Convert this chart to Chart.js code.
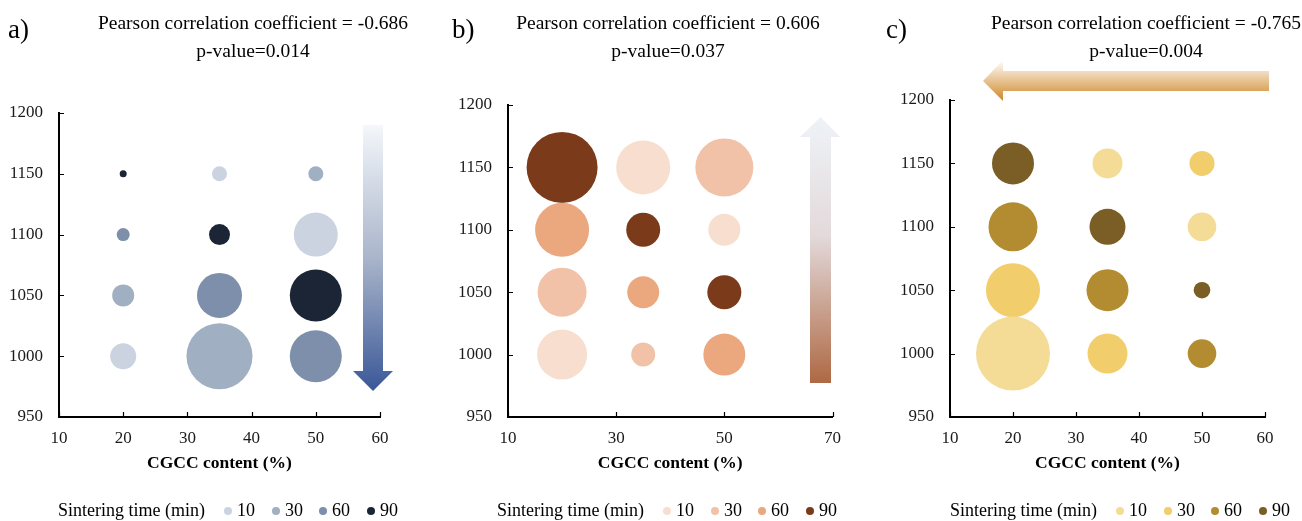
<!DOCTYPE html>
<html>
<head>
<meta charset="utf-8">
<script src="https://cdn.jsdelivr.net/npm/chart.js@4"></script>
<style>
  body { margin: 0; background: #fff; }
  .panel { position: absolute; top: 0; width: 434px; height: 521px; }
</style>
</head>
<body>
<div class="panel" style="left:0px"><canvas id="chartA" width="434" height="521"></canvas></div>
<div class="panel" style="left:434px"><canvas id="chartB" width="434" height="521"></canvas></div>
<div class="panel" style="left:868px"><canvas id="chartC" width="434" height="521"></canvas></div>
<script>
// CGCC content (x) and sintering temperature (y) of the grid
const cgcc = [20, 35, 50];
const temps = [1150, 1100, 1050, 1000];
const timeLevels = [10, 30, 60, 90];
// sintering time for each cell, rows = temps, cols = cgcc
const sinterTime = [
  [90, 10, 30],
  [60, 90, 10],
  [30, 60, 90],
  [10, 30, 60]
];
// bubble size, same layout
const sizeA = [
  [3.5, 7.5, 7.5],
  [6.5, 10.5, 22],
  [11, 22.5, 26],
  [13, 33, 26]
];
const sizeB = [
  [35.5, 27, 29],
  [27, 17, 16],
  [24.5, 16, 17],
  [25, 12, 21]
];
const sizeC = [
  [21, 15, 12.5],
  [24.5, 18, 14.3],
  [27, 21, 8.3],
  [37, 20, 14.3]
];
const xTicksA = [10, 20, 30, 40, 50, 60];
const xTicksB = [10, 30, 50, 70];
const xTicksC = [10, 20, 30, 40, 50, 60];
const yTicks = [950, 1000, 1050, 1100, 1150, 1200];
const pearson = ['-0.686', '0.606', '-0.765'];
const pValues = ['0.014', '0.037', '0.004'];

const SERIF = '"Liberation Serif", "Times New Roman", serif';

function buildSets(size, colors) {
  const sets = timeLevels.map((t, k) => ({
    label: String(t),
    data: [],
    backgroundColor: colors[k],
    hoverBackgroundColor: colors[k],
    borderWidth: 0,
    hoverBorderWidth: 0,
    clip: false
  }));
  temps.forEach((y, i) => {
    cgcc.forEach((x, j) => {
      const k = timeLevels.indexOf(sinterTime[i][j]);
      sets[k].data.push({ x: x, y: y, r: size[i][j] });
    });
  });
  return sets;
}

function drawArrow(ctx, pts, grad) {
  ctx.beginPath();
  ctx.moveTo(pts[0][0], pts[0][1]);
  for (let i = 1; i < pts.length; i++) ctx.lineTo(pts[i][0], pts[i][1]);
  ctx.closePath();
  ctx.fillStyle = grad;
  ctx.fill();
}

const decor = {
  id: 'decor',
  afterDraw(chart, args, o) {
    const ctx = chart.ctx;
    const a = chart.chartArea;
    const sx = chart.scales.x, sy = chart.scales.y;
    ctx.save();

    // tick marks pointing inside the plot
    ctx.strokeStyle = '#000';
    ctx.lineWidth = 1.2;
    ctx.beginPath();
    sx.ticks.forEach(t => {
      const px = Math.round(sx.getPixelForValue(t.value)) + 0.5;
      ctx.moveTo(px, a.bottom);
      ctx.lineTo(px, a.bottom - 5);
    });
    sy.ticks.forEach(t => {
      const py = Math.round(sy.getPixelForValue(t.value)) + 0.5;
      ctx.moveTo(a.left, py);
      ctx.lineTo(a.left + 5, py);
    });
    ctx.stroke();

    ctx.fillStyle = '#000';
    ctx.textBaseline = 'middle';

    // panel letter
    ctx.font = '27px ' + SERIF;
    ctx.textAlign = 'left';
    ctx.fillText(o.letter, o.letterX, 31);

    // correlation text
    ctx.font = '19.5px ' + SERIF;
    ctx.textAlign = 'center';
    ctx.fillText('Pearson correlation coefficient = ' + o.r, o.titleX, 24);
    ctx.fillText('p-value=' + o.p, o.titleX, 52);

    // x axis title
    ctx.font = 'bold 17.5px ' + SERIF;
    ctx.fillText('CGCC content (%)', (a.left + a.right) / 2, 463);

    // legend
    ctx.font = '18px ' + SERIF;
    ctx.textAlign = 'left';
    ctx.fillText('Sintering time (min)', o.legendX, 511);
    const offs = [170, 218, 265, 313];
    timeLevels.forEach((t, k) => {
      const cx = o.legendX + offs[k];
      ctx.beginPath();
      ctx.arc(cx, 511, 4, 0, Math.PI * 2);
      ctx.fillStyle = o.colors[k];
      ctx.fill();
      ctx.fillStyle = '#000';
      ctx.fillText(String(t), cx + 9, 511);
    });

    // trend arrow
    const ar = o.arrow;
    const g = ar.dir === 'up'
      ? ctx.createLinearGradient(0, ar.y1, 0, ar.y0)
      : ctx.createLinearGradient(0, ar.y0, 0, ar.y1);
    ar.stops.forEach(s => g.addColorStop(s[0], s[1]));
    drawArrow(ctx, ar.pts, g);
    ctx.restore();
  }
};

function makePanel(id, cfg) {
  const L = cfg.area[0], T = cfg.area[1], R = cfg.area[2], B = cfg.area[3];
  new Chart(document.getElementById(id), {
    type: 'bubble',
    data: { datasets: buildSets(cfg.size, cfg.colors) },
    options: {
      responsive: false,
      animation: false,
      events: [],
      layout: { padding: { left: 0, top: T, right: 434 - R, bottom: 0 } },
      scales: {
        x: {
          type: 'linear',
          min: cfg.xTicks[0],
          max: cfg.xTicks[cfg.xTicks.length - 1],
          afterFit: s => { s.height = 521 - B; },
          ticks: {
            stepSize: cfg.xTicks[1] - cfg.xTicks[0],
            padding: 11,
            color: '#1a1a1a',
            font: { family: SERIF, size: 17 },
            callback: v => String(v)
          },
          grid: { display: false, drawTicks: false },
          border: { display: true, color: '#000', width: 2 }
        },
        y: {
          type: 'linear',
          min: yTicks[0],
          max: yTicks[yTicks.length - 1],
          afterFit: s => { s.width = L; },
          ticks: {
            stepSize: yTicks[1] - yTicks[0],
            padding: 16,
            color: '#1a1a1a',
            font: { family: SERIF, size: 17 },
            callback: v => String(v)
          },
          grid: { display: false, drawTicks: false },
          border: { display: true, color: '#000', width: 2 }
        }
      },
      plugins: {
        legend: { display: false },
        tooltip: { enabled: false },
        decor: cfg.decor
      }
    },
    plugins: [decor]
  });
}

const colorsA = ['#CBD3E0', '#A0AFC2', '#7D8FAA', '#1B2535'];
const colorsB = ['#F8DECF', '#F1C2A7', '#EBA77E', '#7B3A19'];
const colorsC = ['#F4DC97', '#F2CD6B', '#B38B31', '#7A5E26'];

makePanel('chartA', {
  area: [59, 113, 380, 417],
  xTicks: xTicksA,
  size: sizeA,
  colors: colorsA,
  decor: {
    letter: 'a)', letterX: 8, titleX: 253, legendX: 58,
    r: pearson[0], p: pValues[0], colors: colorsA,
    arrow: {
      dir: 'down', y0: 125, y1: 391,
      stops: [[0, '#F4F7FB'], [0.5, '#A9B5CA'], [1, '#3A5797']],
      pts: [[363, 125], [383, 125], [383, 371], [393, 371], [373, 391], [353, 371], [363, 371]]
    }
  }
});

makePanel('chartB', {
  area: [74, 105, 399, 417],
  xTicks: xTicksB,
  size: sizeB,
  colors: colorsB,
  decor: {
    letter: 'b)', letterX: 18, titleX: 234, legendX: 63,
    r: pearson[1], p: pValues[1], colors: colorsB,
    arrow: {
      dir: 'up', y0: 117, y1: 383,
      stops: [[0, '#AE6843'], [0.55, '#E3D9DA'], [1, '#EEF3F8']],
      pts: [[376, 383], [397, 383], [397, 137], [406, 137], [386.5, 117], [366, 137], [376, 137]]
    }
  }
});

makePanel('chartC', {
  area: [82, 100, 410, 417],
  xTicks: xTicksC,
  size: sizeC,
  colors: colorsC,
  decor: {
    letter: 'c)', letterX: 18, titleX: 278, legendX: 82,
    r: pearson[2], p: pValues[2], colors: colorsC,
    arrow: {
      dir: 'left', y0: 60, y1: 101,
      stops: [[0, '#FFFFFF'], [1, '#CF8726']],
      pts: [[401, 71], [401, 91], [135, 91], [135, 101], [115, 81], [135, 60], [135, 71]]
    }
  }
});
</script>
</body>
</html>
